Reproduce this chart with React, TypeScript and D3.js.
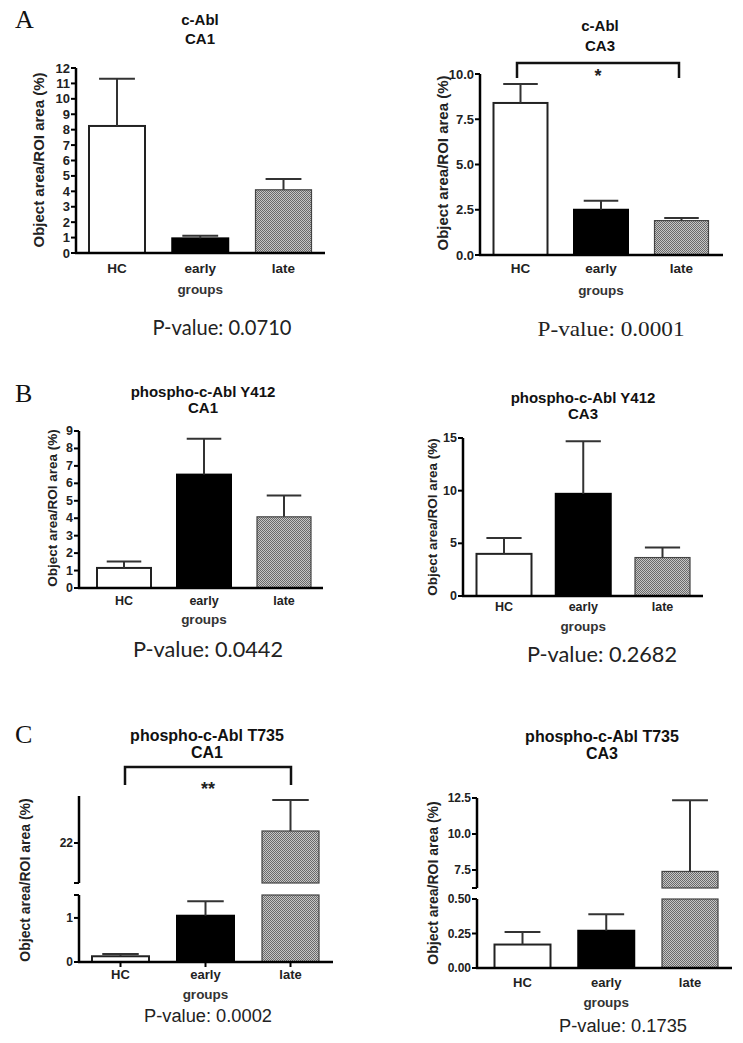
import React from "react";
import * as d3 from "d3";

// ---------- data ----------
const groups = ["HC", "early", "late"];

const cAblCA1Mean = [8.24, 0.95, 4.1];
const cAblCA1Sem = [3.06, 0.17, 0.7];
const cAblCA3Mean = [8.4, 2.5, 1.9];
const cAblCA3Sem = [1.05, 0.5, 0.15];
const y412CA1Mean = [1.15, 6.5, 4.08];
const y412CA1Sem = [0.37, 2.05, 1.22];
const y412CA3Mean = [4.0, 9.7, 3.65];
const y412CA3Sem = [1.5, 5.0, 0.95];
const t735CA1Mean = [0.13, 1.05, 22.6];
const t735CA1Sem = [0.05, 0.33, 1.55];
const t735CA3Mean = [0.17, 0.27, 7.4];
const t735CA3Sem = [0.09, 0.12, 4.95];

const ticksAL = [0, 1, 2, 3, 4, 5, 6, 7, 8, 9, 10, 11, 12];
const ticksAR = [0, 2.5, 5, 7.5, 10];
const ticksBL = [0, 1, 2, 3, 4, 5, 6, 7, 8, 9];
const ticksBR = [0, 5, 10, 15];
const ticksCLlow = [0, 1];
const ticksCLhigh = [22];
const ticksCRlow = [0, 0.25, 0.5];
const ticksCRhigh = [7.5, 10, 12.5];

const pValues = ["0.0710", "0.0001", "0.0442", "0.2682", "0.0002", "0.1735"];

const SANS = "'Liberation Sans', Arial, sans-serif";
const SERIF = "'Liberation Serif', 'DejaVu Serif', serif";
const CAL = "Lato, 'Open Sans', sans-serif";

type Seg = { domain: [number, number]; range: [number, number]; ticks: number[]; fmt: string };
type Cfg = {
  id: string;
  title: string[];
  titleX: number;
  titleY: number[];
  titleSize: number;
  axisX: number;
  xEnd: number;
  centers: [number, number];
  barW: number;
  segs: Seg[];
  tickSize: number;
  yLabelX: number;
  yLabelY: number;
  yLabelSize: number;
  xLabelY: number;
  xLabelSize: number;
  groupsY: number;
  xTicks: boolean;
  means: number[];
  sems: number[];
  p: string;
  pX: number;
  pY: number;
  pW: number;
  pFont: string;
  pSize: number;
  bracket?: { x1: number; x2: number; y: number; legY: number; text: string; textY: number };
};

const panels: Cfg[] = [
  {
    id: "al", title: ["c-Abl", "CA1"], titleX: 200, titleY: [25, 44], titleSize: 15,
    axisX: 76, xEnd: 325, centers: [117, 283.5], barW: 56,
    segs: [{ domain: [0, 12], range: [253, 68], ticks: ticksAL, fmt: "d" }], tickSize: 13,
    yLabelX: 38, yLabelY: 160, yLabelSize: 15, xLabelY: 268, xLabelSize: 13.5, groupsY: 289, xTicks: false,
    means: cAblCA1Mean, sems: cAblCA1Sem,
    p: pValues[0], pX: 222, pY: 335, pW: 139, pFont: CAL, pSize: 21,
  },
  {
    id: "ar", title: ["c-Abl", "CA3"], titleX: 600, titleY: [31, 51], titleSize: 15,
    axisX: 480, xEnd: 723, centers: [520.5, 681.5], barW: 54,
    segs: [{ domain: [0, 10], range: [255, 74], ticks: ticksAR, fmt: ".1f" }], tickSize: 13,
    yLabelX: 442, yLabelY: 163, yLabelSize: 15, xLabelY: 268, xLabelSize: 13.5, groupsY: 290, xTicks: false,
    means: cAblCA3Mean, sems: cAblCA3Sem,
    p: pValues[1], pX: 611, pY: 336, pW: 147, pFont: SERIF, pSize: 22,
    bracket: { x1: 517, x2: 679, y: 63, legY: 78, text: "*", textY: 82 },
  },
  {
    id: "bl", title: ["phospho-c-Abl Y412", "CA1"], titleX: 203, titleY: [397, 413], titleSize: 15,
    axisX: 79, xEnd: 323, centers: [124, 284], barW: 54,
    segs: [{ domain: [0, 9], range: [588, 431], ticks: ticksBL, fmt: "d" }], tickSize: 12.5,
    yLabelX: 52, yLabelY: 508, yLabelSize: 13.5, xLabelY: 601, xLabelSize: 12.5, groupsY: 619, xTicks: false,
    means: y412CA1Mean, sems: y412CA1Sem,
    p: pValues[2], pX: 208, pY: 657, pW: 150, pFont: CAL, pSize: 22,
  },
  {
    id: "br", title: ["phospho-c-Abl Y412", "CA3"], titleX: 583, titleY: [403, 419], titleSize: 15,
    axisX: 463, xEnd: 703, centers: [504, 662.5], barW: 55,
    segs: [{ domain: [0, 15], range: [596, 438], ticks: ticksBR, fmt: "d" }], tickSize: 12.5,
    yLabelX: 432, yLabelY: 517, yLabelSize: 13.5, xLabelY: 607, xLabelSize: 12.5, groupsY: 626, xTicks: false,
    means: y412CA3Mean, sems: y412CA3Sem,
    p: pValues[3], pX: 602, pY: 662, pW: 150, pFont: CAL, pSize: 22,
  },
  {
    id: "cl", title: ["phospho-c-Abl T735", "CA1"], titleX: 207, titleY: [741, 758], titleSize: 16,
    axisX: 79, xEnd: 333, centers: [120.5, 290.5], barW: 57,
    segs: [
      { domain: [0, 1.52], range: [962, 895], ticks: ticksCLlow, fmt: "d" },
      { domain: [20, 24.35], range: [883, 796], ticks: ticksCLhigh, fmt: "d" },
    ], tickSize: 12,
    yLabelX: 25, yLabelY: 880, yLabelSize: 14, xLabelY: 974, xLabelSize: 13, groupsY: 994, xTicks: true,
    means: t735CA1Mean, sems: t735CA1Sem,
    p: pValues[4], pX: 208, pY: 1022, pW: 128, pFont: SANS, pSize: 18,
    bracket: { x1: 125, x2: 291, y: 767, legY: 785, text: "**", textY: 795 },
  },
  {
    id: "cr", title: ["phospho-c-Abl T735", "CA3"], titleX: 602, titleY: [742, 759], titleSize: 16,
    axisX: 477, xEnd: 732, centers: [522.5, 690], barW: 56,
    segs: [
      { domain: [0, 0.5], range: [968, 899], ticks: ticksCRlow, fmt: ".2f" },
      { domain: [6.25, 12.5], range: [888, 798], ticks: ticksCRhigh, fmt: ".1f" },
    ], tickSize: 12,
    yLabelX: 433, yLabelY: 883, yLabelSize: 14, xLabelY: 982, xLabelSize: 13, groupsY: 1002, xTicks: false,
    means: t735CA3Mean, sems: t735CA3Sem,
    p: pValues[5], pX: 623, pY: 1032, pW: 128, pFont: SANS, pSize: 18,
  },
];

const letters = [
  { t: "A", x: 15, y: 28 },
  { t: "B", x: 15, y: 402 },
  { t: "C", x: 15, y: 743 },
];

function Panel({ c }: { c: Cfg }) {
  const x = d3.scalePoint<string>().domain(groups).range(c.centers);
  const ys = c.segs.map((s) => d3.scaleLinear().domain(s.domain).range(s.range));
  const y0 = c.segs[0].range[0];
  const fill = ["#ffffff", "#000000", `url(#dots-${c.id})`];
  const stroke = ["#222", "#000", "#444"];
  const pText = "P-value: " + c.p;
  return (
    <g>
      <defs>
        <pattern id={`dots-${c.id}`} width={2} height={2} patternUnits="userSpaceOnUse">
          <rect width={2} height={2} fill="#c6c6c6" />
          <rect width={1} height={1} fill="#6a6a6a" />
          <rect x={1} y={1} width={1} height={1} fill="#6a6a6a" />
        </pattern>
      </defs>
      {c.title.map((t, i) => (
        <text key={i} x={c.titleX} y={c.titleY[i]} textAnchor="middle" fontFamily={SANS}
          fontWeight="bold" fontSize={c.titleSize} fill="#111">{t}</text>
      ))}
      {groups.map((g, i) => {
        const cx = x(g)!;
        const v = c.means[i];
        return c.segs.map((s, si) => {
          if (v <= s.domain[0]) return null;
          const lo = Math.max(0, s.domain[0]);
          const hi = Math.min(v, s.domain[1]);
          const yTop = ys[si](hi);
          const yBot = ys[si](lo);
          return (
            <rect key={g + si} x={cx - c.barW / 2} y={yTop} width={c.barW} height={yBot - yTop}
              fill={fill[i]} stroke={stroke[i]} strokeWidth={i === 2 ? 1.2 : 2} />
          );
        });
      })}
      {groups.map((g, i) => {
        const cx = x(g)!;
        const v = c.means[i];
        const e = v + c.sems[i];
        const si = c.segs.findIndex((s) => v >= s.domain[0] && v <= s.domain[1]);
        const sc = ys[si];
        const cap = c.barW * 0.32;
        return (
          <g key={"e" + g} stroke="#333" strokeWidth={2}>
            <line x1={cx} x2={cx} y1={sc(v)} y2={sc(e)} />
            <line x1={cx - cap} x2={cx + cap} y1={sc(e)} y2={sc(e)} />
          </g>
        );
      })}
      {c.segs.map((s, si) => (
        <g key={"ax" + si}>
          <line x1={c.axisX} x2={c.axisX} y1={s.range[0]} y2={s.range[1]} stroke="#000" strokeWidth={2.5} />
          {c.segs.length > 1 && (
            <>
              {si > 0 && <line x1={c.axisX - 5} x2={c.axisX} y1={s.range[0]} y2={s.range[0]} stroke="#000" strokeWidth={2} />}
              {si < c.segs.length - 1 && <line x1={c.axisX - 5} x2={c.axisX} y1={s.range[1]} y2={s.range[1]} stroke="#000" strokeWidth={2} />}
            </>
          )}
          {s.ticks.map((t) => (
            <g key={t}>
              <line x1={c.axisX - 5} x2={c.axisX} y1={ys[si](t)} y2={ys[si](t)} stroke="#000" strokeWidth={2} />
              <text x={c.axisX - 6} y={ys[si](t)} textAnchor="end" dominantBaseline="central"
                fontFamily={SANS} fontWeight="bold" fontSize={c.tickSize} fill="#222">
                {d3.format(s.fmt)(t)}
              </text>
            </g>
          ))}
        </g>
      ))}
      <line x1={c.axisX - 1} x2={c.xEnd} y1={y0} y2={y0} stroke="#000" strokeWidth={2.5} />
      {groups.map((g) => (
        <g key={"xl" + g}>
          {c.xTicks && <line x1={x(g)!} x2={x(g)!} y1={y0} y2={y0 + 5} stroke="#000" strokeWidth={2} />}
          <text x={x(g)!} y={c.xLabelY} textAnchor="middle" dominantBaseline="central"
            fontFamily={SANS} fontWeight="bold" fontSize={c.xLabelSize} fill="#222">{g}</text>
        </g>
      ))}
      <text x={(c.centers[0] + c.centers[1]) / 2} y={c.groupsY} textAnchor="middle" dominantBaseline="central"
        fontFamily={SANS} fontWeight="bold" fontSize={13.5} fill="#333">groups</text>
      <text transform={`translate(${c.yLabelX},${c.yLabelY}) rotate(-90)`} textAnchor="middle"
        dominantBaseline="central" fontFamily={SANS} fontWeight="bold" fontSize={c.yLabelSize} fill="#222">
        Object area/ROI area (%)
      </text>
      {c.bracket && (
        <g>
          <path d={`M${c.bracket.x1},${c.bracket.legY}V${c.bracket.y}H${c.bracket.x2}V${c.bracket.legY}`}
            fill="none" stroke="#111" strokeWidth={2.5} />
          <text x={(c.bracket.x1 + c.bracket.x2) / 2} y={c.bracket.textY} textAnchor="middle"
            fontFamily={SANS} fontWeight="bold" fontSize={18} fill="#222">{c.bracket.text}</text>
        </g>
      )}
      <text x={c.pX} y={c.pY} textAnchor="middle" fontFamily={c.pFont} fontSize={c.pSize}
        fill="#222" textLength={c.pW} lengthAdjust="spacingAndGlyphs">{pText}</text>
    </g>
  );
}

export default function App() {
  return (
    <svg width={743} height={1043} style={{ position: "absolute", left: 0, top: 0, background: "#fff" }}>
      <rect width={743} height={1043} fill="#fff" />
      {letters.map((l) => (
        <text key={l.t} x={l.x} y={l.y} fontFamily={SERIF} fontSize={26} fill="#111">{l.t}</text>
      ))}
      {panels.map((c) => (
        <Panel key={c.id} c={c} />
      ))}
    </svg>
  );
}
